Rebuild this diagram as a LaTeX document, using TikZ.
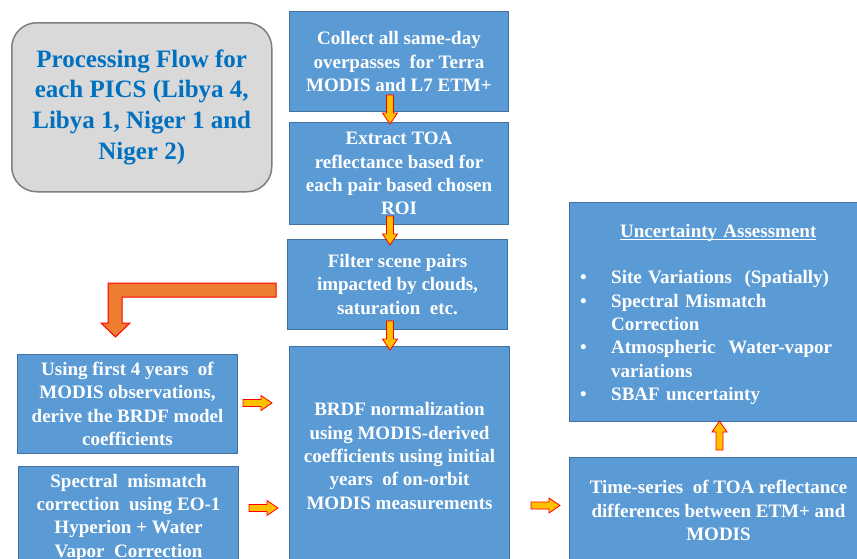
\documentclass[tikz,border=0pt]{standalone}
\usepackage{fontspec}
\setmainfont{Liberation Serif}[BoldFont={Liberation Serif Bold}, ItalicFont={Liberation Serif Italic}]
\usetikzlibrary{calc}
\definecolor{boxblue}{HTML}{5B9BD5}
\definecolor{boxedge}{HTML}{41719C}
\definecolor{titlegray}{HTML}{D9D9D9}
\definecolor{titleedge}{HTML}{7F7F7F}
\definecolor{titleblue}{HTML}{0070C0}
\definecolor{arrfill}{HTML}{FFC000}
\definecolor{bigorange}{HTML}{ED7D31}
\newcommand\myul[1]{\setbox0\hbox{#1}\rlap{\rule[-3pt]{\wd0}{1pt}}\box0}
\newcommand\myitem[1]{{\leftskip=31pt\parindent=0pt\noindent\llap{\makebox[31pt][l]{•}}#1\par}}
\tikzset{
  blockarr/.pic={\path[draw=red, fill=arrfill, line width=0.8pt, line join=miter]
     (0,-3.5) -- (18,-3.5) -- (18,-7.5) -- (29,0) -- (18,7.5) -- (18,3.5) -- (0,3.5) -- cycle;}
}
\begin{document}
\begin{tikzpicture}[x=1pt,y=-1pt,
  bluebox/.style={draw=boxedge, fill=boxblue, line width=1pt, text=white,
    font=\fontsize{19}{23.3}\selectfont\bfseries, align=center, anchor=north west, inner sep=0pt},
  titlebox/.style={draw=titleedge, fill=titlegray, line width=1.5pt, rounded corners=25pt,
    text=titleblue, font=\fontsize{25}{30.7}\selectfont\bfseries, align=center, anchor=north west, inner sep=0pt}]
\useasboundingbox (0,0) rectangle (857,558);
\fill[white] (0,0) rectangle (857,558);
\clip (0,0) rectangle (857,558);

\node[titlebox, minimum width=260pt, minimum height=169pt] (title) at (11,22)
  {Processing Flow for\\each PICS (Libya 4,\\Libya 1, Niger 1 and\\Niger 2)};

\node[bluebox, minimum width=219pt, minimum height=100pt] (b1) at (289,11)
  {Collect all same-day\\overpasses\ \ for Terra\\MODIS and L7 ETM+};
\node[bluebox, minimum width=219pt, minimum height=102pt] (b2) at (289,122)
  {Extract TOA\\reflectance based for\\each pair based chosen\\ROI};
\node[bluebox, minimum width=220pt, minimum height=90pt] (b3) at (287,239)
  {Filter scene pairs\\impacted by clouds,\\saturation\ \ etc.};
\node[bluebox, minimum width=220pt, minimum height=219pt] (b4) at (289,346)
  {BRDF normalization\\using MODIS-derived\\coefficients using initial\\years\ \ of on-orbit\\MODIS measurements};
\node[bluebox, minimum width=220pt, minimum height=99pt] (b5) at (17,354)
  {Using first 4 years\ \ of\\MODIS observations,\\derive the BRDF model\\coefficients};
\node[bluebox, minimum width=220pt, minimum height=102pt] (b6) at (18,466)
  {Spectral\ \ mismatch\\correction\ \ using EO-1\\Hyperion + Water\\Vapor\ \ Correction};
\node[bluebox, minimum width=298pt, minimum height=219pt] (b7) at (569,202) {};
\node[bluebox, minimum width=298pt, minimum height=106pt] (b8) at (569,457)
  {Time-series\ \ of TOA reflectance\\differences between ETM+ and\\MODIS};

\node[anchor=north west, inner sep=0pt, text width=276pt, align=left, text=white,
      font=\fontsize{19}{23.3}\selectfont\bfseries] (b7text) at ($(b7.north west)+(11,22)$)
  {{\centering\myul{Uncertainty Assessment}\par}
   \vspace{23.3pt}
   \myitem{Site Variations\ \ (Spatially)}
   \myitem{Spectral Mismatch\\Correction}
   \myitem{Atmospheric\ \ Water-vapor\\variations}
   \myitem{SBAF uncertainty}};

% small block arrows
\pic[rotate=-90] at ($(b1.south west)+(101,-17)$) {blockarr};
\pic[rotate=-90] at ($(b2.south west)+(101,-9)$) {blockarr};
\pic[rotate=-90] at ($(b3.south west)+(103,-9)$) {blockarr};
\pic at ($(b5.east)+(5,-1)$) {blockarr};
\pic at ($(b6.east)+(10,-9.5)$) {blockarr};
\pic at ($(b4.east)+(21,49.5)$) {blockarr};
\pic[rotate=90] at ($(b8.north west)+(150.5,-7)$) {blockarr};

% big bent arrow
\path[draw=red, fill=bigorange, line width=1pt, line join=miter]
  (276,283) -- (108,283) -- (108,323) -- (101,323) -- (115.5,337) -- (130,323)
  -- (122,323) -- (122,297) -- (276,297) -- cycle;
\end{tikzpicture}
\end{document}
